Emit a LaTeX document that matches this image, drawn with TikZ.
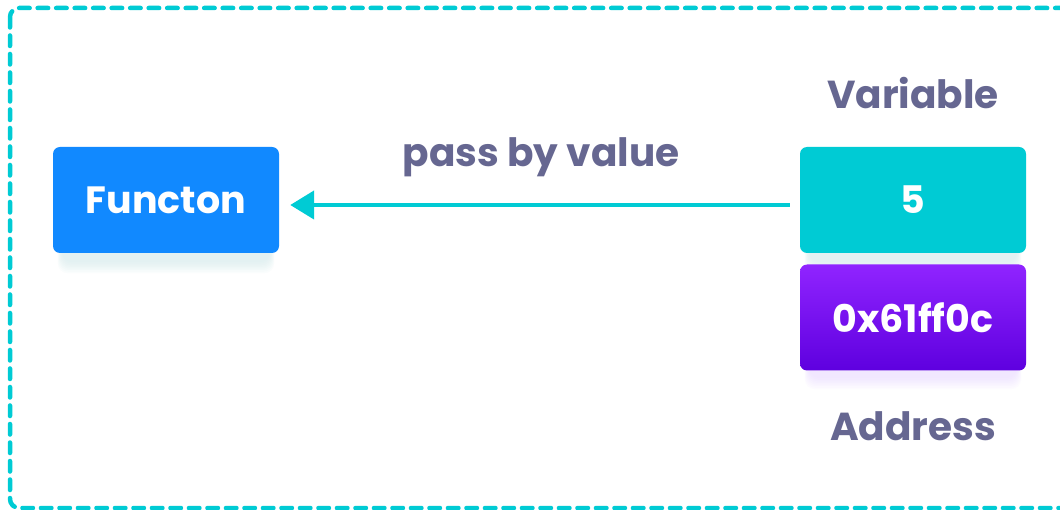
\documentclass[tikz,border=0pt]{standalone}
\usepackage{fontspec}
\setmainfont{Poppins}
\usetikzlibrary{arrows.meta}
\definecolor{teal1}{HTML}{00CBD4}
\definecolor{blue1}{HTML}{1189FF}
\definecolor{purpT}{HTML}{9024FF}
\definecolor{purpB}{HTML}{5E00DF}
\definecolor{txt}{HTML}{666791}
\definecolor{shad}{HTML}{CFE9EA}
\tikzset{
  box/.style={rounded corners=7pt, minimum width=226pt, minimum height=106pt,
    inner sep=0pt, text=white, font=\fontsize{38}{44}\selectfont\bfseries},
  lbl/.style={text=txt, font=\fontsize{39}{46}\selectfont\bfseries, inner sep=0pt},
  arr/.style={draw=teal1, line width=4.5pt, -{Triangle[length=24pt,width=28pt]}},
  frame/.style={draw=teal1, line width=4.5pt, line cap=round, dash pattern=on 10.5pt off 8pt, rounded corners=9pt}
}
\begin{document}
\begin{tikzpicture}[x=1pt,y=-1pt]
\useasboundingbox (0,0) rectangle (1060,510);
\fill[white] (0,0) rectangle (1060,510);
\draw[frame] (10,8) rectangle (1075,508);
% shadows
\foreach \r in {0,2,...,14}{
  \fill[shad, opacity=0.09, rounded corners=10pt] (62-\r*0.3,170-\r*0.4) rectangle (270+\r*0.3,262+\r*0.8);
  \fill[shad, opacity=0.09, rounded corners=10pt] (809-\r*0.3,170-\r*0.4) rectangle (1017+\r*0.3,262+\r*0.8);
}
\foreach \r in {0,2,...,14}{
  \fill[purpT!25, opacity=0.06, rounded corners=10pt] (809-\r*0.3,290-\r*0.4) rectangle (1017+\r*0.3,378+\r*0.8);
}
\node[box, fill=blue1] (f) at (166,200) {Functon};
\node[box, fill=teal1] (v) at (913,200) {5};
\node[box, top color=purpT, bottom color=purpB] (a) at (913,317.5) {0x61ff0c};
\node[lbl, anchor=base] (vl) at (913,109) {Variable};
\node[lbl, anchor=base] (al) at (913,440) {Address};
\draw[arr] ([shift={(-10,5)}]v.west) -- ([shift={(11,5)}]f.east);
\node[lbl, anchor=base] (pl) at (541,167) {pass by value};
\end{tikzpicture}
\end{document}
